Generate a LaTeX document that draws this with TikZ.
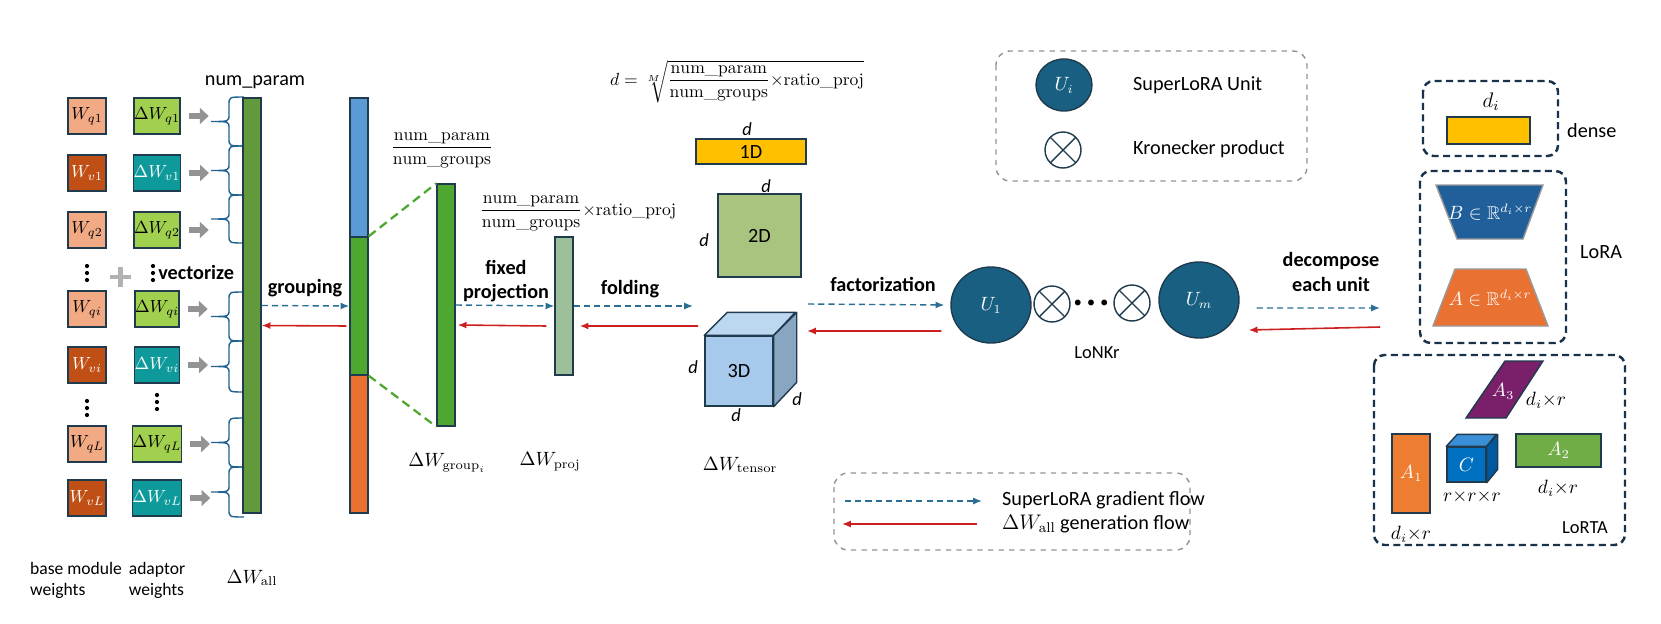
\documentclass[tikz,border=0pt]{standalone}
\usepackage{amsmath,amssymb}
\usepackage{fontspec}
\newfontfamily\lblfont{Carlito}
\usetikzlibrary{arrows.meta,shapes.geometric}

\definecolor{boxline}{HTML}{1F3B4D}
\definecolor{wq}{HTML}{F2AA84}
\definecolor{wv}{HTML}{C04F15}
\definecolor{dwq}{HTML}{A1D04F}
\definecolor{dwv}{HTML}{0E9A9A}
\definecolor{allgreen}{HTML}{62993A}
\definecolor{gblue}{HTML}{5B9BD5}
\definecolor{ggreen}{HTML}{4EA72E}
\definecolor{gorange}{HTML}{E97132}
\definecolor{projgreen}{HTML}{9DC09B}
\definecolor{yel}{HTML}{FFC000}
\definecolor{sqgreen}{HTML}{A9C47F}
\definecolor{cubefront}{HTML}{A6C9EC}
\definecolor{cubetop}{HTML}{BCD7F0}
\definecolor{cubeside}{HTML}{88A6C2}
\definecolor{unitblue}{HTML}{185F82}
\definecolor{gradblue}{HTML}{2A6F93}
\definecolor{genred}{HTML}{CC1F1F}
\definecolor{brcblue}{HTML}{1F6391}
\definecolor{panelblue}{HTML}{17324A}
\definecolor{loraB}{HTML}{215F9A}
\definecolor{purp}{HTML}{7A1F6A}
\definecolor{cfront}{HTML}{0070C0}
\definecolor{ctop}{HTML}{3A8FD6}
\definecolor{cside}{HTML}{00589E}
\definecolor{aone}{HTML}{ED7D31}
\definecolor{atwo}{HTML}{70AD47}

\tikzset{
    wbox/.style = {
        draw = boxline,
        line width = 0.8pt,
        minimum width = 0.76cm,
        minimum height = 0.72cm,
        inner sep = 0pt,
        font = \fontsize{10}{12}\selectfont,
    },
    bar/.style = {
        draw = boxline,
        line width = 0.8pt,
        minimum width = 0.36cm,
        inner sep = 0pt,
    },
    grad/.style = {
        -{Latex[length=5pt,width=4pt]},
        draw = gradblue,
        line width = 0.8pt,
        dash pattern = on 3.5pt off 2.3pt,
    },
    gen/.style = {
        -{Latex[length=5pt,width=4pt]},
        draw = genred,
        line width = 0.9pt,
    },
    vecarrow/.style = {
        -{Triangle[length=5pt,width=9pt]},
        draw = gray!85,
        line width = 3pt,
    },
    brc/.style = {draw = brcblue, line width = 0.8pt},
    lbl/.style = {font = \lblfont\fontsize{11.5}{14}\selectfont},
    small lbl/.style = {font = \lblfont\fontsize{10}{12}\selectfont, align = left},
    act/.style = {font = \lblfont\bfseries\fontsize{11.5}{14}\selectfont, align = center},
    dim/.style = {font = \lblfont\itshape\fontsize{10.5}{12}\selectfont},
    eqn/.style = {font = \fontsize{10}{12}\selectfont},
    unit/.style = {
        ellipse,
        fill = unitblue,
        draw = boxline,
        line width = 0.8pt,
        text = white,
        inner sep = 0pt,
    },
    kron/.style = {
        circle,
        draw = boxline,
        line width = 0.8pt,
        minimum size = 0.72cm,
        inner sep = 0pt,
        path picture = {
            \draw[boxline, line width=0.8pt]
              (path picture bounding box.north west) -- (path picture bounding box.south east)
              (path picture bounding box.north east) -- (path picture bounding box.south west);
        },
    },
    legendbox/.style = {draw = gray!85, dashed, line width = 0.8pt, rounded corners = 8pt},
    panelbox/.style = {draw = panelblue, line width = 1.4pt, dash pattern = on 4pt off 2.5pt, rounded corners = 6pt},
}

% curly brace pointing left, from top #1 to bottom #2
\newcommand{\vbrace}[2]{%
  \pgfmathsetmacro\bmid{(#1+#2)/2}
  \draw[brc] (244,#1) .. controls (229,#1) and (229,#1) .. (229,#1+8) -- (229,\bmid-7)
    .. controls (229,\bmid) and (229,\bmid) .. (211,\bmid)
    .. controls (229,\bmid) and (229,\bmid) .. (229,\bmid+7) -- (229,#2-8)
    .. controls (229,#2) and (229,#2) .. (244,#2);
}

% three stacked dots centred at (#1,#2)
\newcommand{\vdotsat}[2]{%
  \fill[black] (#1,#2-7) circle (1.2pt) (#1,#2) circle (1.2pt) (#1,#2+7) circle (1.2pt);
}

\begin{document}
\begin{tikzpicture}[x=0.02cm,y=-0.02cm,font=\fontsize{10.5}{12.5}\selectfont]
  \useasboundingbox (0,0) rectangle (1661,623);

  % Base module and adaptor weights
  \node[wbox,fill=wq] (Wq1) at (87,116) {$W_{q1}$};
  \node[wbox,fill=dwq] (dWq1) at (157,116) {$\Delta W_{q1}$};
  \node[wbox,fill=wv,text=white] (Wv1) at (87,173) {$W_{v1}$};
  \node[wbox,fill=dwv,text=white] (dWv1) at (157,173) {$\Delta W_{v1}$};
  \node[wbox,fill=wq] (Wq2) at (87,230) {$W_{q2}$};
  \node[wbox,fill=dwq] (dWq2) at (157,230) {$\Delta W_{q2}$};
  \node[wbox,fill=wq] (Wqi) at (87,309) {$W_{qi}$};
  \node[wbox,fill=dwq] (dWqi) at (157,309) {$\Delta W_{qi}$};
  \node[wbox,fill=wv,text=white] (Wvi) at (87,365) {$W_{vi}$};
  \node[wbox,fill=dwv,text=white] (dWvi) at (157,365) {$\Delta W_{vi}$};
  \node[wbox,fill=wq] (WqL) at (87,444) {$W_{qL}$};
  \node[wbox,fill=dwq] (dWqL) at (157,444) {$\Delta W_{qL}$};
  \node[wbox,fill=wv,text=white] (WvL) at (87,498) {$W_{vL}$};
  \node[wbox,fill=dwv,text=white] (dWvL) at (157,498) {$\Delta W_{vL}$};

  \vdotsat{87}{273}
  \vdotsat{153}{273}
  \vdotsat{87}{408}
  \vdotsat{157}{402}
  \draw[gray!60,line width=2.8pt] (110,277) -- (131,277) (120.5,267) -- (120.5,287);
  \node[act,anchor=west,inner sep=0pt] (Vectorize) at (158,272) {vectorize};

  \draw[vecarrow] ([xshift=0.16cm]dWq1.east) -- ++(20,0);
  \draw[vecarrow] ([xshift=0.16cm]dWv1.east) -- ++(20,0);
  \draw[vecarrow] ([xshift=0.16cm]dWq2.east) -- ++(20,0);
  \draw[vecarrow] ([xshift=0.16cm]dWqi.east) -- ++(20,0);
  \draw[vecarrow] ([xshift=0.16cm]dWvi.east) -- ++(20,0);
  \draw[vecarrow] ([xshift=0.16cm]dWqL.east) -- ++(20,0);
  \draw[vecarrow] ([xshift=0.16cm]dWvL.east) -- ++(20,0);

  \vbrace{97}{146}
  \vbrace{146}{195}
  \vbrace{195}{243}
  \vbrace{292}{341}
  \vbrace{341}{392}
  \vbrace{418}{467}
  \vbrace{467}{517}

  % Delta W all
  \node[bar,fill=allgreen,minimum height=8.3cm] (AllBar) at (252,305.5) {};
  \node[lbl] (NumParam) at (255,82) {num\_param};

  \node[small lbl] (BaseLbl) at (76,580) {base module\\weights};
  \node[small lbl] (AdaptLbl) at (157,580) {adaptor\\weights};
  \node (AllLbl) at (252,578) {$\Delta W_{\mathrm{all}}$};

  % Grouping
  \node[bar,fill=gblue,minimum height=2.78cm] (GBlue) at (359,167.5) {};
  \node[bar,fill=ggreen,minimum height=2.76cm] (GGreen) at (359,306) {};
  \node[bar,fill=gorange,minimum height=2.76cm] (GOrange) at (359,444) {};
  \node[act] (Grouping) at (305,288) {grouping};

  \draw[grad] (AllBar.east) -- (GGreen.west);
  \draw[gen] ([yshift=-0.4cm,xshift=-0.06cm]GGreen.west) -- ([yshift=-0.4cm]AllBar.east);

  \node[bar,fill=ggreen,minimum height=4.84cm] (GrpBar) at (446,305) {};
  \draw[ggreen,line width=1.3pt,dash pattern=on 5pt off 3pt] (GGreen.north east) -- (GrpBar.north west);
  \draw[ggreen,line width=1.3pt,dash pattern=on 5pt off 3pt] (GGreen.south east) -- (GrpBar.south west);
  \node[eqn] (GrpFrac) at (442,150) {$\dfrac{\mathrm{num\_param}}{\mathrm{num\_groups}}$};
  \node (GrpLbl) at (447,463) {$\Delta W_{\mathrm{group}_i}$};

  % Fixed projection
  \node[bar,fill=projgreen,minimum height=2.76cm] (ProjBar) at (564,306) {};
  \node[act] (Projection) at (506,281) {fixed\\projection};
  \draw[grad] (GrpBar.east) -- (ProjBar.west);
  \draw[gen] ([yshift=-0.4cm,xshift=-0.16cm]ProjBar.west) -- ([yshift=-0.4cm,xshift=0.04cm]GrpBar.east);
  \node[eqn] (ProjFrac) at (578,213) {$\dfrac{\mathrm{num\_param}}{\mathrm{num\_groups}}{\times}\mathrm{ratio\_proj}$};
  \node (ProjLbl) at (550,462) {$\Delta W_{\mathrm{proj}}$};

  % Folding
  \node[act] (Folding) at (630,289) {folding};
  \coordinate (FoldIn) at (693,306);
  \coordinate (FoldOut) at (698,326);
  \draw[grad] (ProjBar.east) -- (FoldIn);
  \draw[gen] (FoldOut) -- ([xshift=0.12cm,yshift=-0.4cm]ProjBar.east);

  \node[eqn] (Formula) at (737,82) {$d=\sqrt[M]{\dfrac{\mathrm{num\_param}}{\mathrm{num\_groups}}{\times}\mathrm{ratio\_proj}}$};

  \node[draw=boxline,fill=yel,line width=0.8pt,minimum width=2.2cm,minimum height=0.5cm,inner sep=0pt,lbl] (OneD) at (751,151.5) {1D};
  \node[dim] (dOne) at (747,129) {d};

  \node[draw=boxline,fill=sqgreen,line width=0.8pt,minimum size=1.66cm,inner sep=0pt,lbl] (TwoD) at (759.5,235.5) {2D};
  \node[dim] (dTwoTop) at (766,186) {d};
  \node[dim] (dTwoLeft) at (704,240) {d};

  \node[draw=boxline,fill=cubefront,line width=0.8pt,minimum width=1.36cm,minimum height=1.4cm,inner sep=0pt,lbl] (Cube) at (739,371) {3D};
  \draw[boxline,fill=cubetop,line width=0.8pt,line join=round] (Cube.north west) -- ++(23,-23) -- ++(68,0) -- (Cube.north east) -- cycle;
  \draw[boxline,fill=cubeside,line width=0.8pt,line join=round] (Cube.north east) -- ++(23,-23) -- ++(0,70) -- (Cube.south east) -- cycle;
  \node[dim] (dCubeLeft) at (693,367) {d};
  \node[dim] (dCubeBottom) at (736,415) {d};
  \node[dim] (dCubeRight) at (797,399) {d};
  \node (TensorLbl) at (740,465) {$\Delta W_{\mathrm{tensor}}$};

  % Factorization into LoNKr units
  \node[unit,minimum width=1.6cm,minimum height=1.52cm] (U1) at (991,305) {$U_1$};
  \node[kron] (K1) at (1052,304) {};
  \node[font=\fontsize{8}{10}\selectfont] (Dots) at (1091,303) {$\bullet\,\bullet\,\bullet$};
  \node[kron] (K2) at (1132,303) {};
  \node[unit,minimum width=1.6cm,minimum height=1.52cm] (Um) at (1199,300) {$U_m$};
  \node[lbl,font=\lblfont\fontsize{10.5}{12}\selectfont] (LoNKr) at (1097,353) {LoNKr};

  \node[act] (Factorization) at (883,284) {factorization};
  \coordinate (FactIn) at (808,304);
  \coordinate (FactOut) at (807,331);
  \draw[grad] (FactIn) -- ([xshift=-0.12cm]U1.west);
  \draw[gen] ([xshift=-0.18cm,yshift=-0.52cm]U1.west) -- (FactOut);

  % Decompose each unit
  \node[act] (Decompose) at (1331,272) {decompose\\each unit};
  \coordinate (DecIn) at (1380,308);
  \coordinate (DecOut) at (1380,327);
  \draw[grad] ([xshift=0.34cm,yshift=-0.16cm]Um.east) -- (DecIn);
  \draw[gen] (DecOut) -- ([xshift=0.18cm,yshift=-0.6cm]Um.east);

  % Legend: units
  \draw[legendbox] (996,51) rectangle (1307,181);
  \node[unit,minimum width=1.12cm,minimum height=1.04cm] (LegU) at (1064,85) {$U_i$};
  \node[lbl,anchor=west] (LegULbl) at (1127,85) {SuperLoRA Unit};
  \node[kron] (LegK) at (1063,150) {};
  \node[lbl,anchor=west] (LegKLbl) at (1127,149) {Kronecker product};

  % Legend: flows
  \draw[legendbox] (834,473) rectangle (1190,550);
  \coordinate (LegGradA) at (845,501);
  \coordinate (LegGradB) at (982,501);
  \coordinate (LegGenA) at (977,524);
  \coordinate (LegGenB) at (842,524);
  \draw[grad] (LegGradA) -- (LegGradB);
  \draw[gen] (LegGenA) -- (LegGenB);
  \node[lbl,anchor=west] (LegGradLbl) at (996,500) {SuperLoRA gradient flow};
  \node[lbl,anchor=west] (LegGenLbl) at (996,524) {$\Delta W_{\mathrm{all}}$ generation flow};

  % Dense
  \draw[panelbox] (1423,81) rectangle (1558,156);
  \node[draw=boxline,fill=yel,line width=0.8pt,minimum width=1.66cm,minimum height=0.54cm,inner sep=0pt] (DenseBar) at (1488.5,130.5) {};
  \node[font=\fontsize{12}{14}\selectfont] (DenseDim) at (1491,102) {$d_i$};
  \node[lbl,anchor=west] (DenseLbl) at (1561,131) {dense};

  % LoRA
  \draw[panelbox] (1420,171) rectangle (1566,343);
  \draw[gray!80,fill=loraB,line width=0.8pt] (1436,185) -- (1543,185) -- (1523,239) -- (1457,239) -- cycle;
  \node[text=white] (BLbl) at (1490,212) {$B\in\mathbb{R}^{d_i\times r}$};
  \draw[gray!80,fill=gorange,line width=0.8pt] (1455,269) -- (1526,269) -- (1548,326) -- (1433,326) -- cycle;
  \node[text=white] (ALbl) at (1490,298) {$A\in\mathbb{R}^{d_i\times r}$};
  \node[lbl,anchor=west] (LoRALbl) at (1574,252) {LoRA};

  % LoRTA
  \draw[panelbox] (1374,355) rectangle (1625,545);
  \draw[boxline,fill=purp,line width=0.8pt] (1505,361) -- (1543,361) -- (1506,418) -- (1466,418) -- cycle;
  \node[text=white] (A3) at (1503,391) {$A_3$};
  \node (A3Dim) at (1546,400) {$d_i{\times}r$};
  \node[draw=boxline,fill=aone,line width=0.8pt,minimum width=0.76cm,minimum height=1.58cm,inner sep=0pt,text=white] (A1) at (1411,473.5) {$A_1$};
  \node (A1Dim) at (1411,534) {$d_i{\times}r$};
  \node[draw=boxline,fill=cfront,line width=0.8pt,minimum width=0.78cm,minimum height=0.7cm,inner sep=0pt,text=white] (C) at (1466.5,464.5) {$C$};
  \draw[boxline,fill=ctop,line width=0.8pt,line join=round] (C.north west) -- ++(11,-12) -- ++(39,0) -- (C.north east) -- cycle;
  \draw[boxline,fill=cside,line width=0.8pt,line join=round] (C.north east) -- ++(11,-12) -- ++(0,35) -- (C.south east) -- cycle;
  \node (CDim) at (1472,497) {$r{\times}r{\times}r$};
  \node[draw=boxline,fill=atwo,line width=0.8pt,minimum width=1.7cm,minimum height=0.66cm,inner sep=0pt,text=white] (A2) at (1558.5,450.5) {$A_2$};
  \node (A2Dim) at (1558,488) {$d_i{\times}r$};
  \node[lbl,font=\lblfont\fontsize{10.5}{12}\selectfont] (LoRTALbl) at (1585,528) {LoRTA};

\end{tikzpicture}
\end{document}
